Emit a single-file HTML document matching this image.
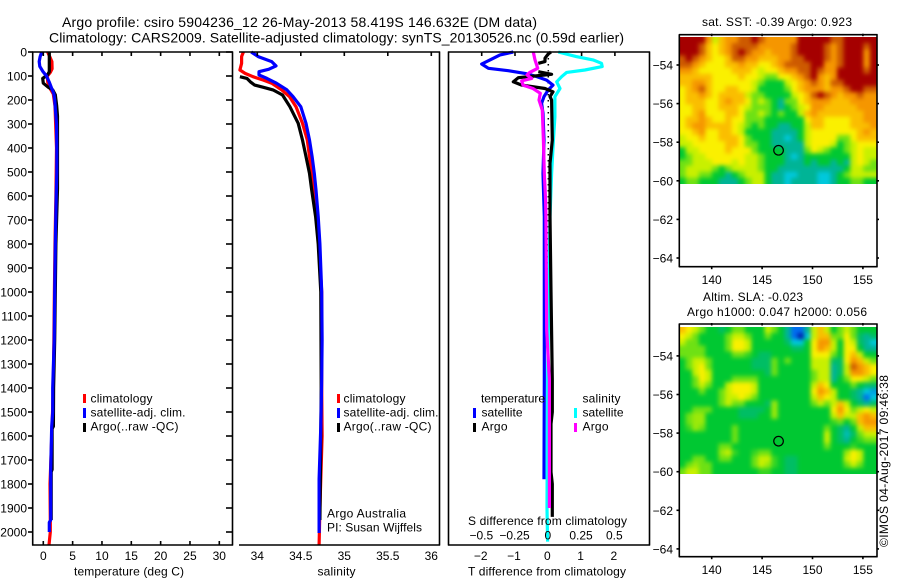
<!DOCTYPE html>
<html>
<head>
<meta charset="utf-8">
<title>Argo profile csiro 5904236_12</title>
<style>
html,body{margin:0;padding:0;background:#fff;}
svg{display:block;}
text{font-family:"Liberation Sans",sans-serif;font-size:12px;fill:#000;}
.t{font-size:14px;}
</style>
</head>
<body>
<svg id="chart" width="900" height="580" viewBox="0 0 900 580" xmlns="http://www.w3.org/2000/svg">
<defs>
<filter id="heat-blur" filterUnits="userSpaceOnUse" x="640" y="0" width="260" height="520" color-interpolation-filters="sRGB"><feGaussianBlur stdDeviation="2.2"/></filter>
<clipPath id="clip-sst"><rect x="679" y="37" width="198" height="147"/></clipPath>
<clipPath id="clip-sla"><rect x="679" y="327" width="198" height="147"/></clipPath>
</defs>
<rect width="900" height="580" fill="#fff"/>
<g clip-path="url(#clip-sst)"><g id="sst-cells" filter="url(#heat-blur)"></g></g>
<g clip-path="url(#clip-sla)"><g id="sla-cells" filter="url(#heat-blur)"></g></g>
<g id="marks"></g>
<g>
<text class="t" x="62" y="27" textLength="475" lengthAdjust="spacing">Argo profile: csiro 5904236_12 26-May-2013 58.419S 146.632E (DM data)</text>
<text class="t" x="49" y="42.5" textLength="575" lengthAdjust="spacing">Climatology: CARS2009. Satellite-adjusted climatology: synTS_20130526.nc (0.59d earlier)</text>
<text x="702" y="26" textLength="150" lengthAdjust="spacing">sat. SST: -0.39 Argo: 0.923</text>
<text x="703" y="301" textLength="100" lengthAdjust="spacing">Altim. SLA: -0.023</text>
<text x="687" y="316" textLength="180" lengthAdjust="spacing">Argo h1000: 0.047 h2000: 0.056</text>
<text x="74" y="575.5" textLength="110" lengthAdjust="spacing">temperature (deg C)</text>
<text x="317.5" y="575.5" textLength="38" lengthAdjust="spacing">salinity</text>
<text x="468" y="575.5" textLength="158" lengthAdjust="spacing">T difference from climatology</text>
<text x="468" y="525" textLength="159" lengthAdjust="spacing">S difference from climatology</text>
<text x="327" y="517.5" textLength="79" lengthAdjust="spacing">Argo Australia</text>
<text x="327" y="531.5" textLength="95" lengthAdjust="spacing">PI: Susan Wijffels</text>
<text transform="translate(888,547) rotate(-90)" textLength="172" lengthAdjust="spacing">©IMOS 04-Aug-2017 09:46:38</text>
</g>
<g>
<rect x="83" y="394" width="3" height="9" fill="#f00"/>
<rect x="83" y="408" width="3" height="10" fill="#00f"/>
<rect x="83" y="423" width="3" height="9" fill="#000"/>
<text x="90.5" y="402.5" textLength="62" lengthAdjust="spacing">climatology</text>
<text x="90.5" y="416.5" textLength="95" lengthAdjust="spacing">satellite-adj. clim.</text>
<text x="90.5" y="430.5" textLength="88" lengthAdjust="spacing">Argo(..raw -QC)</text>
</g>
<g>
<rect x="337" y="394" width="3" height="9" fill="#f00"/>
<rect x="337" y="408" width="3" height="10" fill="#00f"/>
<rect x="337" y="423" width="3" height="9" fill="#000"/>
<text x="343.5" y="402.5" textLength="62" lengthAdjust="spacing">climatology</text>
<text x="343.5" y="416.5" textLength="95" lengthAdjust="spacing">satellite-adj. clim.</text>
<text x="343.5" y="430.5" textLength="88" lengthAdjust="spacing">Argo(..raw -QC)</text>
</g>
<g>
<text x="481" y="402.5" textLength="64" lengthAdjust="spacing">temperature</text>
<text x="582.5" y="402.5" textLength="38" lengthAdjust="spacing">salinity</text>
<rect x="473" y="408" width="3" height="10" fill="#00f"/>
<rect x="473" y="423" width="3" height="9" fill="#000"/>
<rect x="574" y="408" width="3" height="10" fill="#0ff"/>
<rect x="574" y="423" width="3" height="9" fill="#f0f"/>
<text x="481.5" y="416.5" textLength="41" lengthAdjust="spacing">satellite</text>
<text x="481.5" y="430.5" textLength="26" lengthAdjust="spacing">Argo</text>
<text x="582.5" y="416.5" textLength="41" lengthAdjust="spacing">satellite</text>
<text x="582.5" y="430.5" textLength="26" lengthAdjust="spacing">Argo</text>
</g>
</svg>
<script>
// ---- profile data (depth in m) ----
const tempClimDepth = [0,20,40,70,85,100,125,150,175,225,400,600,800,1000,1200,1400,1600,1800,1950,2000,2054];
const tempClim = [0.74,1.1,1.47,1.5,1.2,0.7,0.75,1.1,1.7,2.0,2.25,2.15,2.0,1.9,1.8,1.7,1.45,1.15,1.2,1.2,0.97];
const tempSatDepth = [0,20,40,60,80,100,125,150,175,200,250,300,400,500,600,800,1000,1200,1400,1500,1560,1740,1950,1960,2000];
const tempSat = [-0.27,-0.55,-0.7,-0.6,-0.1,0.55,1.0,1.4,1.8,1.95,2.1,2.25,2.3,2.3,2.2,2.05,1.95,1.85,1.6,1.6,1.43,1.26,1.26,1.03,1.03];
const tempArgoDepth = [0,82,95,110,130,147,158,178,225,267,570,800,1000,1200,1400,1560,1570,1740,1750,1950];
const tempArgo = [1.03,1.03,0.74,-0.1,0,0.86,1.6,2.05,2.28,2.42,2.42,2.15,2.05,1.95,1.75,1.72,1.5,1.5,1.35,1.35];

const salClimDepth = [0,19,47,75,89,103,117,130,158,186,228,297,367,436,506,575,686,1000,1400,1600,1900,2054];
const salClim = [33.84,33.82,33.82,33.8,33.86,33.95,34.07,34.165,34.28,34.37,34.445,34.52,34.575,34.6,34.625,34.65,34.69,34.74,34.74,34.745,34.72,34.71];
const salSatDepth = [0,19,40,58,72,82,96,110,130,158,186,228,297,367,436,506,575,686,800,1000,1200,1367,1560,1780,2004];
const salSat = [33.93,34.01,34.165,34.215,34.13,34.02,34.02,34.11,34.22,34.34,34.41,34.5,34.56,34.6,34.63,34.655,34.675,34.7,34.72,34.74,34.745,34.74,34.73,34.71,34.71];
const salArgoDepth = [103,110,124,138,147,158,179,228,297,367,436,506,575,686,800,1000,1400,1600,1950];
const salArgo = [33.8,33.88,33.92,33.97,34.07,34.18,34.29,34.375,34.47,34.52,34.56,34.6,34.625,34.67,34.7,34.73,34.735,34.73,34.72];

const dTSatDepth = [0,12,33,50,68,78,89,100,117,138,158,186,214,256,367,506,686,1367,1780];
const dTSat = [-1.05,-1.45,-1.75,-2.0,-1.8,-1.2,-0.7,-0.4,-0.05,0.14,0,-0.13,-0.2,-0.16,-0.13,-0.16,-0.12,-0.12,-0.13];
const dSSatDepth = [0,19,33,47,61,75,85,103,124,152,186,270,367,506,686,1367,1900,2040];
const dSSat = [0.075,0.21,0.336,0.4,0.405,0.275,0.138,0.1,0.063,0.088,0.05,0.05,0.038,0.025,0.0125,-0.005,-0.01,-0.005];
const dTArgoDepth = [0,8,26,40,47,60,82,93,100,107,124,138,152,166,186,200,367,464,686,1000,1367,1500,1550,1750,1800,1937];
const dTArgo = [0.08,0,-0.1,-0.1,-0.3,null,-0.3,0.1,-0.4,-0.9,-1.05,-0.8,-0.1,0.14,0.05,0.1,0.12,0.05,0.05,0.08,0.12,0.12,0.08,0.08,0.12,0.12];
const dSArgoDepth = [0,33,68,85,96,110,120,138,152,172,200,242,367,506,617,686,1160,1367,1900];
const dSArgo = [-0.113,-0.1,-0.08,-0.14,-0.16,-0.125,-0.2,-0.19,-0.115,-0.06,-0.07,-0.045,-0.037,-0.03,-0.02,-0.018,-0.012,0.008,0.008];

// ---- tick labels ----
const depthTicks = [0,100,200,300,400,500,600,700,800,900,1000,1100,1200,1300,1400,1500,1600,1700,1800,1900,2000];
const tempTicks = [0,5,10,15,20,25,30];
const salTicks = [34,34.5,35,35.5,36];
const dTTicks = [-2,-1,0,1,2];
const dSTicks = [-0.5,-0.25,0,0.25,0.5];
const lonTicks = [140,145,150,155];
const latTicks = [-54,-56,-58,-60,-62,-64];
const argoLon = 146.632;
const argoLat = -58.419;

// ---- heatmap levels (colour-scale level, north to south) ----
const sstGrid = [
[11,11,11,11,9,6,8,9,9,10,10,11,10,9,9,9,9,9,11,11,11,11,11,10,10,11,11,11,11,11],
[11,11,11,10,8,7,8,9,10,10,10,10,9,9,9,9,9,10,11,11,11,11,10,9,10,11,11,11,10,11],
[11,11,11,10,8,7,8,9,10,11,10,9,9,8,9,9,9,10,11,11,11,11,10,9,10,11,11,11,9,11],
[10,11,10,9,8,7,7,8,10,10,9,9,8,8,8,9,9,10,10,11,11,11,10,9,10,11,11,11,9,11],
[10,10,9,8,7,7,7,8,8,9,8,8,7,7,8,9,10,10,10,10,11,11,9,9,10,11,11,11,9,11],
[9,9,8,7,7,7,7,7,8,8,8,7,6,7,7,8,9,9,10,10,11,10,9,9,11,11,11,11,10,11],
[8,8,8,8,8,7,7,7,7,8,7,7,6,5,5,7,7,8,9,10,11,9,8,9,11,11,11,11,11,11],
[8,8,9,9,8,7,7,7,7,7,7,6,5,4,4,4,6,7,8,9,10,9,8,10,10,11,11,11,11,11],
[7,8,9,10,8,7,7,8,8,7,7,6,4,4,4,4,5,7,8,9,9,9,8,9,9,10,11,11,10,10],
[7,8,8,9,8,7,8,8,8,8,6,5,5,4,4,4,4,6,7,8,10,11,10,9,8,9,9,10,9,9],
[7,8,8,8,7,7,8,9,8,8,7,5,6,5,4,3,5,5,7,8,9,9,9,8,8,8,9,9,9,9],
[7,7,8,8,7,7,8,8,8,7,6,5,5,5,4,3,4,5,6,7,9,9,8,8,8,8,8,9,9,9],
[7,7,8,9,7,7,7,8,8,7,5,5,6,5,4,5,4,4,6,8,9,8,8,8,8,8,8,8,9,9],
[7,8,8,9,8,7,7,8,7,7,5,5,5,4,4,4,4,4,4,7,8,8,7,7,7,7,8,8,9,9],
[7,8,9,9,8,8,8,8,7,6,5,4,5,4,4,3,3,4,4,6,8,8,7,7,7,7,8,8,8,9],
[7,7,8,9,7,7,8,8,7,6,4,4,4,4,3,3,3,3,4,6,7,7,7,7,7,7,7,8,9,8],
[6,7,7,8,7,7,8,8,8,7,5,4,4,4,3,3,2,3,4,6,7,7,7,7,5,5,7,8,8,8],
[6,6,7,7,7,7,7,8,8,7,5,5,4,4,3,3,3,3,3,6,7,7,7,6,4,5,6,7,7,7],
[4,6,6,7,7,7,7,8,7,7,7,5,4,4,4,4,3,3,3,5,7,6,5,4,4,5,6,7,6,6],
[4,5,6,6,7,7,7,7,7,7,6,6,5,4,4,4,3,2,3,4,4,4,4,4,4,4,6,7,6,6],
[5,5,6,6,6,7,7,7,6,7,6,6,5,4,4,4,3,3,3,4,3,4,4,3,4,3,6,7,6,5],
[5,6,6,6,6,5,4,5,6,6,6,6,5,4,4,3,3,3,3,3,3,3,3,3,3,4,6,6,5,5],
[5,6,6,5,5,4,4,3,4,5,6,6,6,4,3,3,2,2,3,3,3,2,2,3,4,5,6,6,6,6],
[4,5,5,4,4,4,3,3,3,4,5,6,6,4,3,3,2,3,3,3,3,2,2,3,4,4,5,5,4,4]
];
const slaGrid = [
[8,7,6,5,4,4,3.5,4,5,5,4,4,4,6,5,4,3,1,1,3,6,8,6,4,5,6,5,4,4,4],
[7,6,5,4,4,4,4,5,6,6,5,4,4,5,4,4,3,1,0,2,6,8,8,5,5,7,5,3.5,3,3.5],
[6,5,5,4,4,4,4,5,7,7,6,4,4,4,4,4,3.5,2,2,4,7,9,9,6,4,7,6,3.5,3,2],
[5,5,5,5,4,4,4,5,7,7,6,4,4,4,4,4,4,3.5,3.5,4,7,9,8,6,4,7,7,4,3,3],
[5,5,5,5,4,4,4,4,5,5,4.5,4,3.5,3.5,4,4,4,4,4,4,7,7,7,5,4,7,8,6,4,4],
[4,5,6,6,5,4,4,4,4,4,4,3.5,3.5,3.5,5,4,5,4,4,4,6,6,6,3.5,3.5,7,9,8,6,5],
[4,5,6,7,5,4,4,4,4,4,4,3.5,3.5,3.5,5,4,4,4,4,4,6,6,6,3,3.5,6,10,9,8,7],
[4,4,6,7,6,4,4,4,4,4,4,4,4,3.5,5,4,4,4,4,4,5,6,6,3,3.5,6,9,9,8,7],
[4,4,5,7,6,4,4,4,5,5,5,5,4,4,4,4,4,4,4,4,5,6,6,3,4,5,7,7,6,5],
[4,4,5,6,5,4,4,6,7,7,7,6,4,4,4,4,4,4,4,4,6,8,7,4,4,4,5,4,3.5,3.5],
[4,4,4,5,4,4,5,6,7,7,7,6,4,4,4,4,4,4,4,4,7,9,8,6,4,4,3.5,3,2,1.5],
[4,4,4,4,4,4,5,6,6,7,6,5,4,4,4,4,4,4,4,4,6,8,7,6,4,4,3.5,3,1,2],
[4,4,4,4,4,4,5,6,5,5,4,4,4,3.5,5.5,4,4,4,4,4,5,6,5,6,8,6,4,3.5,3,3.5],
[4,4,5,5,5,4,4,4,4,3.5,3.5,3.5,3.5,4,5.5,4,4,4,4,4,4,4,4,7,9,7,5,6,7,6],
[4,5,5.5,5.5,4,4,4,4,4,3.5,3.5,3.5,4,4,5.5,4,4,4,4,4,4,4,4,6,8,6,6,8,9,8],
[4,5,5.5,5.5,4,4,4,4,4,4,4,4,4,4,4,4,4,4,4,4,4,4,4,4.5,5,4,5,8,9,9],
[4,4.5,5.5,5,4,4,4,4,5,4,4,4,4,4,4,4,4,4,4,4,4,4,5,4,3.5,3,4,6,8,8],
[4,4,4,4,4,4,4,4,5,4,4,4,4,4,4,4,4,4,4,4,4,4,6,4,3.5,2.5,3.5,5,6,6],
[4,4,4,4,4,4,4,4,5,4,4,4,4,4,4,4,4,4,4,4,4,4,6,4,3.5,3,4,4.5,5,5],
[4,4,4,4,4,4,5,5,4,4,4,4,4,4,4,4,4,4,4,4,4,4,5,4,4,4,4.5,4,4,4],
[4,4,4,4,4,4,5.5,6,4.5,4,4,4.5,5,5,4,4,4,4,4,4,4,4,4,4,4,5.5,7,6,4,4],
[4,4,5,5,4,4,5,5,4,4,4,5,6,6,4.5,4,3.5,3.5,4,4,4,4,4,4,4,6,7,6,4,4],
[4,5,5.5,5,5,4,4,4,4,4,4,5,6,5.5,4.5,4,3.5,3.5,4,4,4,4,4,4,4,5,6,5,4,4],
[5,6,6,5,5,4,4,4,4,4,4,4,4.5,4.5,4,4,3.5,3.5,4,4,4,4,4,4,4,4,4,4,4,4]
];

// ---- scales ----
const NS = 'http://www.w3.org/2000/svg';
const root = document.getElementById('marks');
const yDepth = d => 52 + d * 0.24;
const xTemp = t => 43.3 + t * 5.867;
const xSal = s => 257.3 + (s - 34) * 87;
const xDT = t => 548.3 + t * 33.3;
const xDS = s => 548.3 + s * 133;
const xLon = l => 711.7 + (l - 140) * 10.08;
const yLat1 = l => 65 + (-54 - l) * 19.3;
const yLat2 = l => 355.9 + (-54 - l) * 19.3;

function shape(tag, attrs, parent) {
  const el = document.createElementNS(NS, tag);
  for (const k in attrs) el.setAttribute(k, attrs[k]);
  (parent || root).appendChild(el);
  return el;
}
function rule(x1, y1, x2, y2, name) {
  const el = shape('line', {x1: x1, y1: y1, x2: x2, y2: y2, stroke: '#000', 'stroke-width': 1.6});
  
  
}
function label(x, y, s, anchor, name) {
  const el = shape('text', {x: x, y: y, 'text-anchor': anchor});
  el.textContent = s.replace('-', '\u2212');
  
  
}
function profile(depths, vals, xf, color, name) {
  let parts = [], cur = [];
  depths.forEach((d, i) => {
    if (vals[i] === null) { if (cur.length) parts.push(cur); cur = []; }
    else cur.push(xf(vals[i]).toFixed(1) + ',' + yDepth(d).toFixed(1));
  });
  if (cur.length) parts.push(cur);
  parts.forEach(p => {
    const el = shape('polyline', {points: p.join(' '), fill: 'none', stroke: color, 'stroke-width': 3.2, 'stroke-linejoin': 'round'});
    
    
  });
}

// ---- heatmaps ----
const palette = [[0,30,170],[0,110,240],[0,200,220],[0,180,150],[0,200,50],[110,225,20],[200,240,0],[250,240,0],[250,190,0],[245,150,0],[205,90,0],[165,0,0]];
function levelColor(v) {
  const i = Math.max(0, Math.min(10, Math.floor(v)));
  const f = Math.max(0, Math.min(1, v - i));
  const c = palette[i].map((a, k) => Math.round(a + (palette[i + 1][k] - a) * f));
  return 'rgb(' + c.join(',') + ')';
}
function heatmap(grid, left, top, width, height, parentId, name) {
  const parent = document.getElementById(parentId);
  const rows = grid.length;
  const pad = 12;
  grid.forEach((row, r) => row.forEach((v, c) => {
    const cols = row.length;
    const x0 = left + c * width / cols - (c === 0 ? pad : 0);
    const x1 = left + (c + 1) * width / cols + (c === cols - 1 ? pad : 0);
    const y0 = top + r * height / rows - (r === 0 ? pad : 0);
    const y1 = top + (r + 1) * height / rows + (r === rows - 1 ? pad : 0);
    const el = shape('rect', {x: x0, y: y0, width: x1 - x0 + 0.5, height: y1 - y0 + 0.5, fill: levelColor(v)}, parent);
    
    
  }));
}
heatmap(sstGrid, 679, 37, 197.5, 147, 'sst-cells', 'sst-heatmap-cell');
heatmap(slaGrid, 679, 327, 197.5, 147, 'sla-cells', 'sla-heatmap-cell');

// ---- panel 1: temperature ----
profile(tempClimDepth, tempClim, xTemp, '#f00', 'temperature-climatology-line');
profile(tempArgoDepth, tempArgo, xTemp, '#000', 'temperature-argo-line');
profile(tempSatDepth, tempSat, xTemp, '#00f', 'temperature-satellite-line');
rule(32.7, 51.5, 32.7, 545.5, 'temperature-axis-left');
rule(232.5, 51.5, 232.5, 545.5, 'temperature-axis-right');
rule(32, 52, 233, 52, 'temperature-axis-top');
rule(32, 545, 233, 545, 'temperature-axis-bottom');
depthTicks.forEach(d => {
  rule(28, yDepth(d), 32.7, yDepth(d), 'depth-tick-left');
  rule(226, yDepth(d), 232.5, yDepth(d), 'depth-tick-right');
  label(27, yDepth(d) + 4.5, String(d), 'end', 'depth-tick-label');
});
tempTicks.forEach(t => {
  rule(xTemp(t), 52, xTemp(t), 56, 'temperature-tick-top');
  rule(xTemp(t), 541, xTemp(t), 545, 'temperature-tick-bottom');
  label(xTemp(t), 560, String(t), 'middle', 'temperature-tick-label');
});

// ---- panel 2: salinity ----
profile(salClimDepth, salClim, xSal, '#f00', 'salinity-climatology-line');
profile(salArgoDepth, salArgo, xSal, '#000', 'salinity-argo-line');
profile(salSatDepth, salSat, xSal, '#00f', 'salinity-satellite-line');
rule(439.5, 51.5, 439.5, 545.5, 'salinity-axis-right');
rule(239, 52, 440, 52, 'salinity-axis-top');
rule(239, 545, 440, 545, 'salinity-axis-bottom');
salTicks.forEach(s => {
  rule(xSal(s), 52, xSal(s), 56, 'salinity-tick-top');
  label(xSal(s), 560, String(s), 'middle', 'salinity-tick-label');
});

// ---- panel 3: differences ----
const zeroDepth = [0, 1160];
const zeroVal = [0, 0];
const zeroLine = shape('line', {x1: xDT(zeroVal[0]), y1: yDepth(zeroDepth[0]), x2: xDT(zeroVal[1]), y2: yDepth(zeroDepth[1]), stroke: '#000', 'stroke-width': 1.5, 'stroke-dasharray': '1.5 4.5'});


profile(dTSatDepth, dTSat, xDT, '#00f', 't-difference-satellite-line');
profile(dSSatDepth, dSSat, xDS, '#0ff', 's-difference-satellite-line');
profile(dTArgoDepth, dTArgo, xDT, '#000', 't-difference-argo-line');
profile(dSArgoDepth, dSArgo, xDS, '#f0f', 's-difference-argo-line');
rule(448.5, 51.5, 448.5, 545.5, 'difference-axis-left');
rule(649.5, 51.5, 649.5, 545.5, 'difference-axis-right');
rule(448, 52, 650, 52, 'difference-axis-top');
rule(448, 545, 650, 545, 'difference-axis-bottom');
dTTicks.forEach(t => {
  rule(xDT(t), 52, xDT(t), 56, 'difference-tick-top');
  label(xDT(t) - 1, 560, String(t), 'middle', 't-difference-tick-label');
});
dSTicks.forEach(s => {
  label(xDS(s) - 0.5, 539.5, String(s), 'middle', 's-difference-tick-label');
});

// ---- map frames ----
function mapFrame(yLat, top, bottom, name) {
  rule(679.3, top - 0.5, 679.3, bottom + 0.5, name + '-axis-left');
  rule(877, top - 0.5, 877, bottom + 0.5, name + '-axis-right');
  rule(679, top, 877.5, top, name + '-axis-top');
  rule(679, bottom, 877.5, bottom, name + '-axis-bottom');
  lonTicks.forEach(l => {
    rule(xLon(l), top - 1, xLon(l), top + 1.5, name + '-lon-tick-top');
    rule(xLon(l), bottom, xLon(l), bottom + 2.5, name + '-lon-tick-bottom');
    label(xLon(l), bottom + 17.5, String(l), 'middle', name + '-lon-tick-label');
  });
  latTicks.forEach(l => {
    rule(676.5, yLat(l), 679.3, yLat(l), name + '-lat-tick-left');
    rule(877, yLat(l), 879, yLat(l), name + '-lat-tick-right');
    label(673, yLat(l) + 4.5, String(l), 'end', name + '-lat-tick-label');
  });
  const c = shape('circle', {cx: xLon(argoLon), cy: yLat(argoLat), r: 4.8, fill: 'none', stroke: '#000', 'stroke-width': 1.2});
  
  
}
mapFrame(yLat1, 34.7, 266.7, 'sst-map');
mapFrame(yLat2, 324, 556.7, 'sla-map');
</script>
</body>
</html>
